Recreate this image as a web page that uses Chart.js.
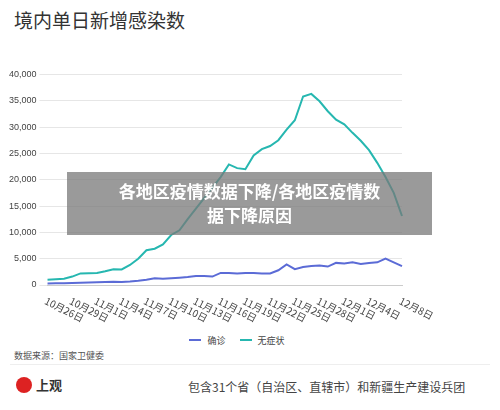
<!DOCTYPE html><html><head><meta charset="utf-8">
<script src="https://cdn.jsdelivr.net/npm/chart.js@4"></script>
<style>
body{margin:0;width:500px;height:410px;background:#fff;font-family:"Noto Sans CJK SC",sans-serif;position:relative;overflow:hidden}
#t{position:absolute;left:14px;top:6px;font-size:19px;color:#333}
#w{position:absolute;left:6px;top:66px;width:460px;height:265px}
#ov{position:absolute;left:67px;top:172px;width:365px;height:63px;background:rgba(120,120,120,0.75);color:#fff;font-weight:bold;font-size:17px;text-align:center;line-height:24px;padding-top:7px;box-sizing:border-box}
#lg{position:absolute;left:0;width:460px;top:334px;text-align:center;font-size:9px;color:#444}
#lg i{display:inline-block;width:12px;height:2px;vertical-align:3px;margin:0 6px 0 14px}
#src{position:absolute;left:14px;top:349px;font-size:9px;color:#555}
#line{position:absolute;left:10px;right:10px;top:364px;border-top:1px solid #eee}
#logo{position:absolute;left:16px;top:375px;font-size:13px;color:#333;font-weight:bold}
#logo span{display:inline-block;width:16px;height:16px;border-radius:50%;background:#d22;margin-right:4px;vertical-align:-3px}
#ft{position:absolute;left:188px;top:378px;font-size:12px;color:#444}
</style></head><body>
<div id="t">境内单日新增感染数</div>
<div id="w"><canvas id="c"></canvas></div>
<div id="lg"><i style="background:#5b6bd6"></i>确诊<i style="background:#26b7b0"></i>无症状</div>
<div id="ov">各地区疫情数据下降/各地区疫情数<br>据下降原因</div>
<div id="src">数据来源：国家卫健委</div>
<div id="line"></div>
<div id="logo"><span></span>上观</div>
<div id="ft">包含31个省（自治区、直辖市）和新疆生产建设兵团</div>
<script>
const dates=[];
const start=new Date(2022,9,26);
for(let i=0;i<44;i++){const d=new Date(start.getTime()+i*86400000);dates.push((d.getMonth()+1)+'月'+d.getDate()+'日');}
const confirmed=[300,320,350,400,450,480,500,550,600,580,650,800,1000,1300,1200,1300,1400,1500,1700,1700,1600,2300,2300,2200,2300,2300,2200,2200,2800,3900,3000,3400,3600,3700,3500,4200,4100,4300,4000,4200,4300,5000,4300,3600];
const asymptomatic=[1000,1100,1200,1600,2200,2250,2300,2600,3000,2950,3800,5000,6600,6900,7700,9500,10400,12500,14500,16500,18500,20500,22900,22200,22000,24600,25800,26400,27500,29500,31300,35800,36300,34900,33000,31400,30500,28900,27400,25600,23200,20500,17500,13100];
const yTicks=[0,5000,10000,15000,20000,25000,30000,35000,40000];
const showLabel=i=>(i%3===0||i===43)&&i!==42;
const xLabels={id:'xl',afterDraw(ch){const s=ch.scales.x,c=ch.ctx;c.save();c.font='10px "Noto Sans CJK SC"';c.fillStyle='#444';c.textBaseline='middle';
dates.forEach((d,i)=>{if(!showLabel(i))return;c.save();c.translate(s.getPixelForValue(i)-2,s.bottom+7);c.rotate(Math.PI*0.15);c.fillText(d,0,0);c.restore();});c.restore();}};
new Chart(document.getElementById('c'),{type:'line',
data:{labels:dates,datasets:[
{label:'确诊',data:confirmed,borderColor:'#5b6bd6',borderWidth:2,pointRadius:0,tension:0},
{label:'无症状',data:asymptomatic,borderColor:'#26b7b0',borderWidth:2,pointRadius:0,tension:0}]},
options:{animation:false,responsive:true,maintainAspectRatio:false,
layout:{padding:{right:64,bottom:38,top:4}},
plugins:{legend:{display:false},tooltip:{enabled:false}},
scales:{x:{offset:false,grid:{display:false},border:{color:'#ccc'},ticks:{display:false}},
y:{min:0,max:40000,afterBuildTicks:a=>{a.ticks=yTicks.map(v=>({value:v}))},
grid:{color:'#e6e6e6',borderDash:[2,2]},border:{display:false},
ticks:{font:{size:9},color:'#444',callback:v=>v.toLocaleString('en-US')}}}},plugins:[xLabels]});
</script></body></html>
